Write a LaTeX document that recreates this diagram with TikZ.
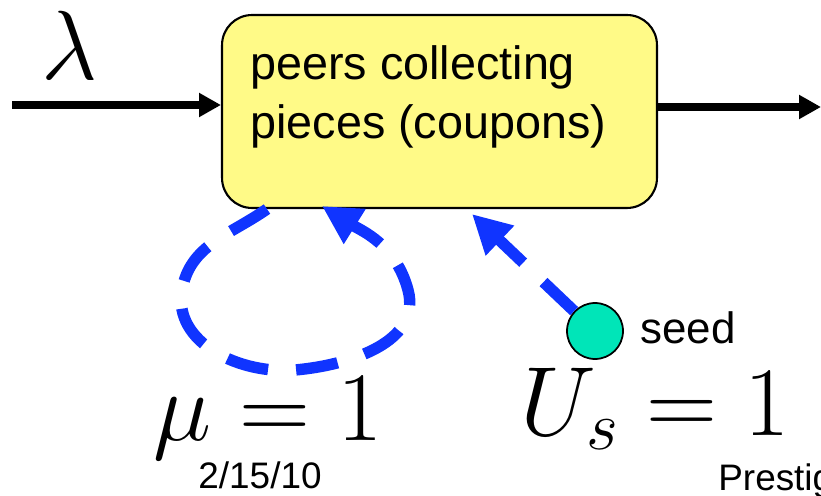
\RequirePackage{fix-cm}
\documentclass[tikz,border=0pt]{standalone}
\usepackage{fontspec}
\newfontfamily\labelfont{Liberation Sans}
\usetikzlibrary{arrows.meta,calc}

\definecolor{peeryellow}{RGB}{255,250,135}
\definecolor{loopblue}{RGB}{16,52,255}
\definecolor{seedgreen}{RGB}{0,229,184}

\begin{document}
\begin{tikzpicture}[x=0.02cm, y=-0.02cm,
    flow/.style={line width=4pt, -{Triangle[length=12.5pt,width=13pt]}},
    blueflow/.style={loopblue, line width=6.5pt, dash pattern=on 24pt off 16pt,
        -{Triangle[length=22pt,width=22pt]}},
    bigmath/.style={inner sep=0pt, font=\fontsize{56}{62}\selectfont},
    sanslabel/.style={inner sep=0pt, font=\labelfont\fontsize{21}{25}\selectfont}]
    \useasboundingbox (0,0) rectangle (821,496);
    % Box
    \node[draw, line width=1.2pt, fill=peeryellow, rounded corners=0.6cm,
        minimum width=8.7cm, minimum height=3.86cm] (box) at (439.5,111.5) {};
    \node[anchor=west, inner sep=0pt, align=left,
        font=\labelfont\fontsize{26.6}{34}\selectfont] (boxtext) at (250,97)
        {peers collecting\\pieces (coupons)};
    % Arrivals and departures
    \coordinate (src) at (12,105);
    \coordinate (snk) at (821,107);
    \draw[flow] (src) -- (src -| box.west);
    \draw[flow] (snk -| box.east) -- (snk);
    \node[bigmath] (lambda) at (70,45) {$\lambda$};
    % Seed
    \node[circle, draw, line width=1pt, fill=seedgreen, minimum size=1.12cm,
        inner sep=0pt] (seed) at (595,331) {};
    \node[sanslabel, anchor=base west, font=\labelfont\fontsize{25}{30}\selectfont]
        (seedlabel) at (640,343) {seed};
    \draw[blueflow] (seed) -- ($(box.south west)+(251,5)$);
    % Peers uploading to each other
    \draw[blueflow] ($(box.south west)+(46,0)$) to[out=215,in=80] (182,290)
        to[out=-100,in=185] (295,370) to[out=5,in=-75] (408,290)
        to[out=105,in=-32] ($(box.south west)+(101,-3)$);
    % Rates
    \node[bigmath, anchor=base] (mu) at (268,440) {$\mu = 1$};
    \node[bigmath, anchor=base] (useed) at (655,435) {$U_s = 1$};
    % Footer
    \node[sanslabel, anchor=base] (date) at (260,488) {2/15/10};
    \node[sanslabel, anchor=base west] (footer) at (718,490) {Prestig};
\end{tikzpicture}
\end{document}
